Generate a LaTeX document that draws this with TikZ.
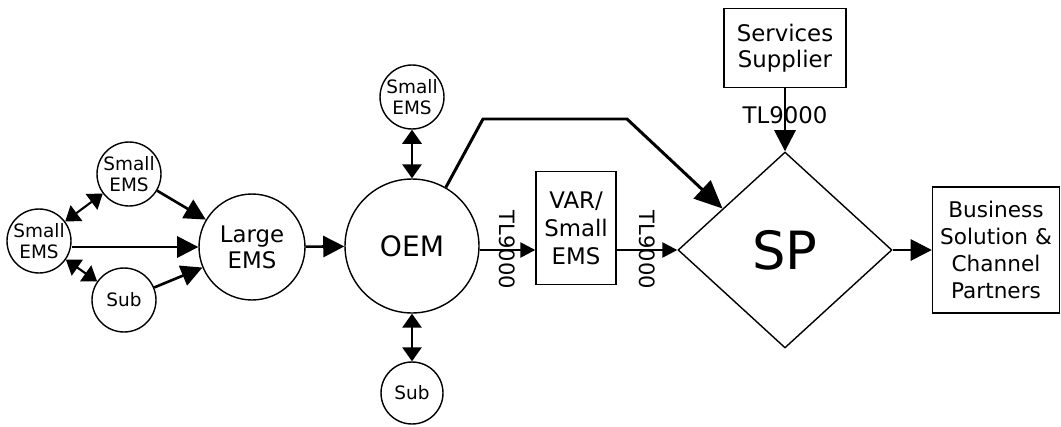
\documentclass[tikz,border=0pt]{standalone}
\usepackage{fontspec}
\setmainfont{DejaVu Sans}
\usetikzlibrary{arrows.meta, shapes.geometric, calc}
\tikzset{
  % plain outlines for the parties, heavier strokes for the flows
  party/.style     = {circle, draw, line width=0.8pt, inner sep=0pt, align=center},
  partybox/.style  = {rectangle, draw, line width=0.8pt, inner sep=0pt, align=center},
  flow/.style      = {-{Triangle[length=12pt, width=12pt]}, line width=1.5pt},
  tlflow/.style    = {-{Triangle[length=8.5pt, width=8.5pt]}, line width=1.4pt},
  link/.style      = {{Triangle[length=8pt, width=11pt]}-{Triangle[length=8pt, width=11pt]},
                      line width=1.2pt},
  smallf/.style    = {font=\fontsize{10.5}{11.8}\selectfont},
  midf/.style      = {font=\fontsize{13}{15}\selectfont},
  tlv/.style       = {font=\fontsize{12}{14}\selectfont, rotate=-90},
}

\begin{document}
\begin{tikzpicture}[x=0.02cm, y=-0.02cm,
    bigflow/.style={-{Triangle[length=16pt, width=14pt]}, line width=1.7pt},
    suppin/.style={-{Triangle[length=12pt, width=12pt]}, line width=1.5pt}]
  \useasboundingbox (0,0) rectangle (1061,426);
  % supplier cluster
  \node[party, smallf, minimum size=1.28cm] (smallT) at (129,174) {Small\\EMS};
  \node[party, smallf, minimum size=1.28cm] (smallL) at (39,241) {Small\\EMS};
  \node[party, smallf, minimum size=1.28cm] (subL) at (124,300) {Sub};
  \node[party, font=\fontsize{13}{14.7}\selectfont, minimum size=2.12cm] (large) at (252,247) {Large\\EMS};
  % OEM and its own partners
  \node[party, font=\fontsize{16}{18}\selectfont, minimum size=2.68cm] (oem) at (412,246) {OEM};
  \node[party, smallf, minimum size=1.28cm] (smallO) at (412,97) {Small\\EMS};
  \node[party, smallf, minimum size=1.24cm] (subO) at (412,393) {Sub};
  % downstream chain
  \node[partybox, font=\fontsize{13}{15.9}\selectfont, minimum width=1.6cm, minimum height=2.26cm] (var) at (576,228) {VAR/\\Small\\EMS};
  \node[diamond, draw, line width=0.8pt, inner sep=0pt, minimum width=4.28cm, minimum height=3.92cm,
        font=\fontsize{30}{34}\selectfont] (sp) at (785,250) {SP};
  \node[partybox, midf, minimum width=2.44cm, minimum height=1.58cm] (supplier) at (785,48) {Services\\Supplier};
  \node[partybox, font=\fontsize{12.3}{15.5}\selectfont, minimum width=2.54cm, minimum height=2.52cm] (biz) at (996,250)
    {Business\\Solution \&\\Channel\\Partners};
  \coordinate (bendA) at (483,119);
  \coordinate (bendB) at (627,119);
  \coordinate (spIn) at ($(sp.north)!0.58!(sp.west)$);

  % flows into the large EMS
  \draw[flow] (smallL.east |- large) -- (large);
  \draw[flow] (smallT) -- (large);
  \draw[flow] (subL) -- (large);
  \draw[link] (smallL) -- (smallT);
  \draw[link] (smallL) -- (subL);
  % OEM links
  \draw[flow] (large) -- (oem);
  \draw[link] (oem) -- (smallO);
  \draw[link] (oem) -- (subO);
  \draw[tlflow] (oem.east |- sp.west) -- (var.west |- sp.west) node[midway, tlv] {TL9000};
  \draw[tlflow] (var.east |- sp.west) -- (sp.west) node[midway, tlv] {TL9000};
  \draw[bigflow] (oem.60) -- (bendA) -- (bendB) -- (spIn);
  % into and out of SP
  \draw[suppin] (supplier) -- (sp) node[midway, yshift=0.1cm, midf] {TL9000};
  \draw[flow] (sp.east) -- (biz.west);
\end{tikzpicture}
\end{document}
